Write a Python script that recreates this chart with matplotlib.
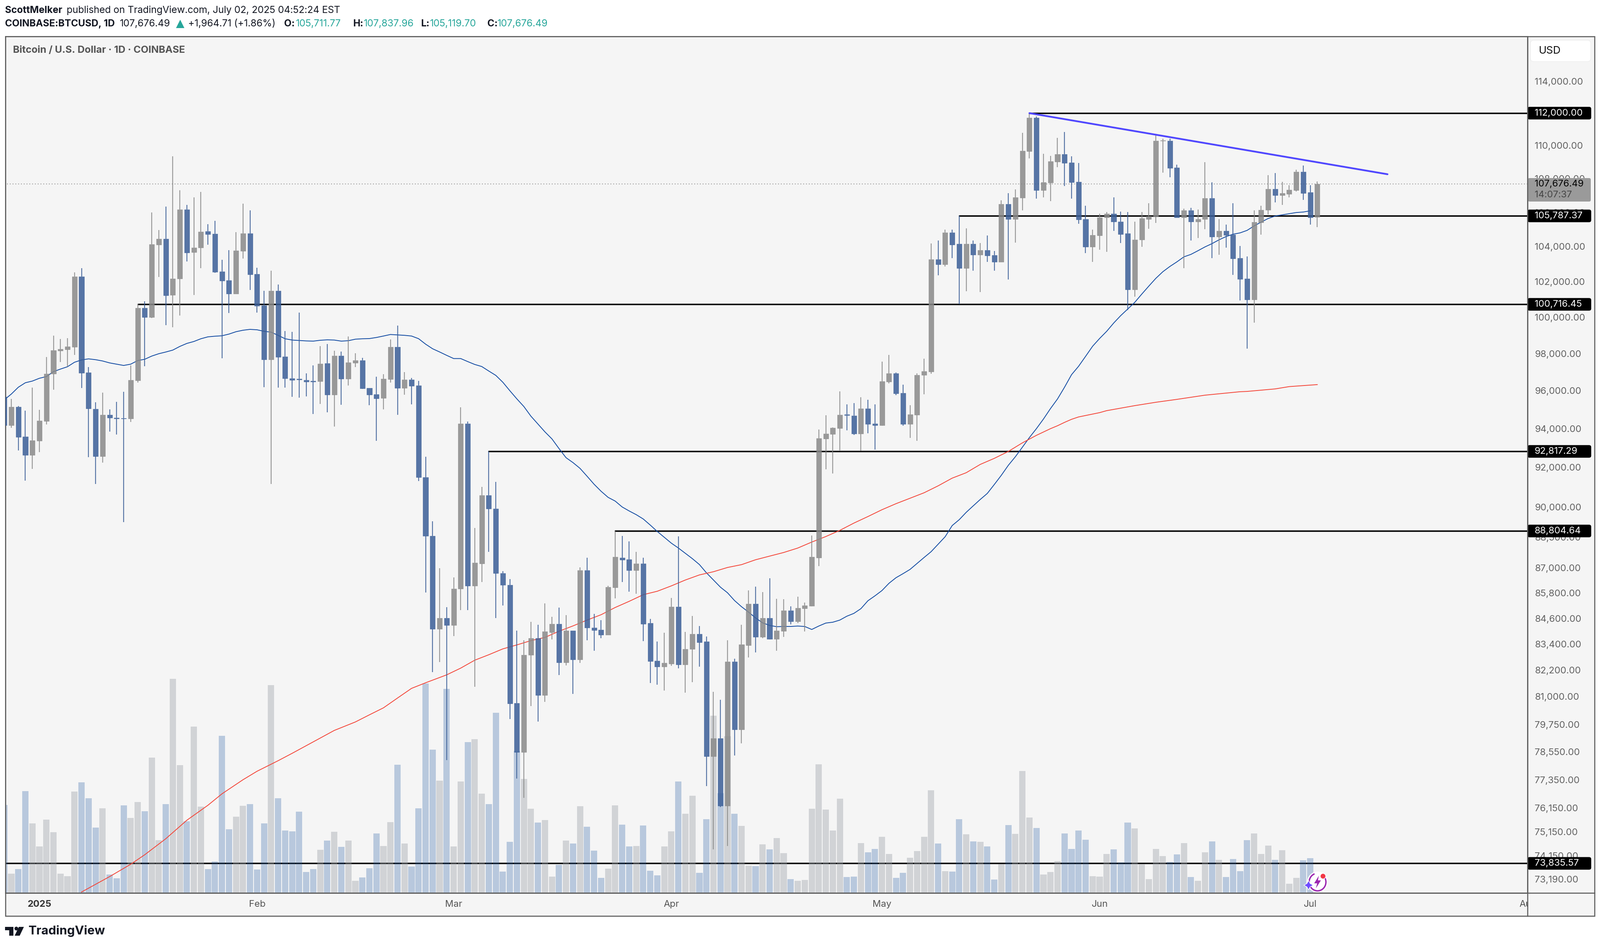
import numpy as np
import matplotlib
matplotlib.use("Agg")
import matplotlib.pyplot as plt
from matplotlib.patches import Rectangle, FancyBboxPatch, Circle, Polygon, Arc

plt.rcParams["font.family"] = "Inter"

# daily candles, first entry is Dec 27 2024 (day -5 counted from Jan 1)
first_day = -5
opens = [
    95673, 94166, 95149, 93575, 92626, 93374, 94398, 96904, 98144, 98214,
    98365, 102291, 96964, 95041, 92571, 94714, 94568, 94545, 94522, 96541,
    100523, 100000, 104114, 104449, 101240, 102158, 106156, 103670, 103928, 104893,
    104745, 102570, 102074, 101300, 103744, 104770, 102436, 100642, 97668, 101480,
    97829, 96653, 96631, 96562, 96516, 96494, 97478, 95775, 97887, 96642,
    97506, 97621, 96140, 95798, 95607, 96620, 98355, 96141, 96589, 96275,
    91495, 88559, 84107, 84618, 84269, 86009, 94257, 86134, 87216, 90592,
    89918, 86754, 86189, 80710, 78537, 82906, 83671, 81057, 83953, 84344,
    82550, 84020, 82685, 86882, 84170, 84057, 83820, 86072, 87502, 87424,
    86895, 87203, 84369, 82624, 82352, 82501, 85154, 82464, 83164, 83858,
    83509, 78352, 79146, 76231, 82587, 79534, 83348, 85290, 83725, 84603,
    83626, 84012, 84974, 84463, 85075, 85177, 87500, 93468, 93721, 94016,
    94738, 94672, 93743, 95046, 94271, 94171, 96488, 96924, 95872, 94249,
    94716, 96830, 97024, 103255, 102970, 104823, 104149, 102772, 104149, 103521,
    103788, 103493, 103130, 106493, 105587, 106864, 109660, 111712, 107318, 107762,
    109025, 109469, 108978, 107812, 105587, 103998, 104631, 105683, 105906, 105442,
    104756, 101539, 104391, 105606, 105751, 110287, 110297, 108667, 105703, 106119,
    105442, 105587, 106844, 104564, 104919, 104679, 103331, 102160, 100975, 105393,
    106128, 107388, 107011, 107091, 107318, 108399, 107170, 105711.77,
]
highs = [
    95900, 95559, 95194, 94940, 96174, 94984, 97806, 98985, 98786, 98833,
    102521, 102764, 97275, 95379, 95889, 95007, 95401, 95935, 97368, 100741,
    100897, 105993, 104955, 106331, 109360, 107308, 106432, 106877, 107206, 105304,
    105505, 103240, 103793, 104844, 106508, 106118, 102788, 101480, 102618, 101841,
    99244, 99197, 100260, 96940, 97368, 98401, 98530, 98144, 98120, 98926,
    98027, 97760, 96140, 96756, 96881, 98767, 99529, 96993, 96678, 96522,
    92542, 89285, 86998, 85123, 86536, 95118, 94374, 88962, 90995, 92817,
    91263, 86844, 86472, 84016, 83582, 84444, 84307, 85313, 84680, 85098,
    84756, 84020, 87036, 87489, 84805, 84506, 86136, 88793, 88571, 88298,
    87789, 87489, 84581, 83509, 83920, 85555, 88532, 83958, 84718, 84232,
    83755, 81210, 80853, 83582, 82727, 84294, 85926, 86110, 85834, 86510,
    85531, 85510, 85156, 85632, 85339, 88575, 93950, 94694, 94060, 95970,
    95272, 95350, 95643, 95508, 95272, 97558, 97938, 96970, 96317, 95226,
    96924, 97731, 104170, 104362, 104996, 104976, 105790, 105053, 104362, 104196,
    104631, 103740, 106698, 107141, 107368, 110784, 112000, 111804, 109509, 109375,
    110480, 110834, 109358, 108946, 106376, 104976, 105916, 106003, 106893, 106051,
    106003, 105442, 106012, 106542, 110682, 110428, 110418, 108846, 106216, 106274,
    106167, 108985, 107792, 105606, 105268, 106542, 104025, 103427, 106119, 106376,
    108219, 108339, 107812, 107595, 108538, 108797, 107595, 107837.96,
]
lows = [
    94000, 94044, 92857, 91316, 91925, 92780, 94220, 96049, 97541, 97287,
    97922, 96152, 92527, 91164, 92252, 93853, 93698, 89250, 94355, 96437,
    97310, 99964, 102255, 99563, 99445, 100094, 103132, 101240, 102764, 104114,
    102497, 97737, 100236, 101300, 103315, 101529, 100260, 96197, 91164, 96174,
    96174, 95684, 95639, 95707, 94760, 95288, 94850, 94098, 95243, 96288,
    97275, 96094, 95220, 93374, 95007, 96432, 94730, 95785, 95273, 91292,
    85831, 82110, 82563, 78190, 83771, 84992, 84992, 81444, 86324, 87789,
    84618, 85212, 79995, 77404, 76567, 80579, 79886, 80758, 83606, 81976,
    82415, 81117, 82526, 83584, 83100, 83671, 83820, 85540, 86317, 85856,
    85768, 83534, 81613, 81541, 81274, 82402, 82280, 81178, 81650, 82354,
    77068, 74413, 76186, 74557, 78398, 78924, 82775, 83022, 83675, 83616,
    83100, 83725, 84313, 84373, 83992, 85156, 87095, 91900, 91683, 92872,
    93903, 93677, 92839, 93765, 92905, 94149, 96385, 95758, 94149, 93514,
    93369, 95804, 96898, 102358, 102847, 103341, 100735, 101450, 102612, 101404,
    103120, 102612, 103130, 102113, 104218, 106118, 109228, 106796, 106893, 106659,
    108697, 107555, 106796, 105316, 103635, 103111, 103807, 103693, 104919, 104196,
    100402, 101141, 103978, 105024, 105365, 108369, 108087, 105703, 102753, 104362,
    104506, 105003, 103341, 103521, 103931, 102377, 100938, 98265, 99703, 104689,
    105877, 106591, 106425, 106874, 107240, 106727, 105268, 105119.70,
]
closes = [
    94166, 95149, 93552, 92626, 93385, 94410, 96916, 98167, 98237, 98377,
    102291, 96952, 95052, 92571, 94714, 94568, 94522, 94522, 96564, 100523,
    100000, 104138, 104449, 101216, 102170, 106156, 103659, 103940, 104868, 104720,
    102545, 102050, 101300, 103768, 104770, 102412, 100630, 97668, 101480, 97806,
    96653, 96562, 96585, 96471, 96471, 97455, 95775, 97887, 96642, 97529,
    97621, 96117, 95775, 95593, 96636, 98355, 96141, 96589, 96250, 91496,
    88559, 84107, 84618, 84269, 86009, 94257, 86134, 87242, 90592, 89905,
    86754, 86176, 80698, 78537, 82906, 83671, 81057, 83983, 84344, 82550,
    84020, 82685, 86882, 84170, 84045, 83820, 86084, 87528, 87395, 86895,
    87216, 84344, 82599, 82352, 82526, 85154, 82464, 83176, 83858, 83483,
    78364, 79146, 76231, 82587, 79534, 83372, 85275, 83725, 84603, 83626,
    84031, 84974, 84463, 85096, 85197, 87541, 93490, 93743, 94038, 94716,
    94694, 93743, 95046, 94249, 94171, 96511, 96924, 95849, 94249, 94738,
    96830, 97047, 103255, 102970, 104823, 104120, 102772, 104149, 103521, 103788,
    103474, 103130, 106473, 105587, 106893, 109690, 111712, 107318, 107792, 109045,
    109469, 108948, 107792, 105568, 103998, 104660, 105703, 105906, 105442, 104727,
    101539, 104411, 105635, 105780, 110297, 110327, 108647, 105703, 106119, 105442,
    105606, 106844, 104564, 104919, 104660, 103303, 102132, 100975, 105413, 106147,
    107388, 107011, 107120, 107338, 108399, 107141, 105683, 107676.49,
]
# volume in arbitrary units
volumes = [
    495, 106, 132, 574, 391, 260, 412, 341, 106, 92,
    571, 624, 533, 367, 476, 101, 80, 493, 422, 512,
    460, 764, 296, 500, 1210, 721, 403, 940, 486, 132,
    175, 887, 358, 429, 491, 500, 130, 391, 1175, 533,
    350, 346, 457, 115, 132, 241, 293, 343, 258, 293,
    65, 84, 137, 334, 263, 398, 723, 277, 146, 476,
    1184, 809, 633, 1153, 260, 628, 852, 868, 560, 500,
    1018, 118, 286, 802, 643, 474, 396, 410, 89, 156,
    293, 277, 488, 372, 236, 82, 134, 493, 384, 260,
    263, 379, 122, 96, 260, 346, 628, 445, 548, 111,
    415, 1001, 562, 885, 445, 377, 151, 149, 272, 244,
    308, 222, 75, 65, 70, 474, 726, 469, 350, 531,
    87, 89, 279, 227, 246, 315, 217, 82, 111, 196,
    234, 315, 579, 277, 120, 118, 415, 329, 289, 286,
    260, 72, 160, 381, 331, 688, 424, 365, 101, 115,
    177, 334, 246, 350, 298, 92, 90, 218, 244, 171,
    396, 363, 158, 76, 247, 205, 173, 216, 280, 86,
    66, 226, 289, 185, 87, 190, 121, 297, 335, 218,
    266, 185, 238, 48, 83, 181, 194, 3,
]
# 50 day average, one value per day from first_day
ma50 = [
    95514, 95821, 96186, 96425, 96516, 96665, 96756, 97021, 97160, 97287,
    97529, 97655, 97713, 97668, 97598, 97494, 97425, 97356, 97425, 97621,
    97690, 97864, 97992, 98085, 98190, 98390, 98554, 98660, 98810, 98915,
    98950, 98974, 99067, 99197, 99279, 99327, 99303, 99220, 99173, 98997,
    98810, 98739, 98716, 98692, 98680, 98727, 98751, 98739, 98680, 98704,
    98786, 98810, 98820, 98880, 98960, 99044, 99021, 98998, 98960, 98815,
    98516, 98263, 98088, 97905, 97730, 97730, 97566, 97410, 97298, 97055,
    96821, 96453, 96000, 95566, 95159, 94653, 94240, 93830, 93464, 92966,
    92496, 92241, 91946, 91547, 91140, 90785, 90478, 90293, 89997, 89797,
    89614, 89399, 89097, 88781, 88493, 88207, 87970, 87710, 87450, 87165,
    86766, 86420, 86075, 85810, 85440, 85147, 84893, 84620, 84388, 84268,
    84208, 84218, 84218, 84238, 84218, 84078, 84238, 84378, 84418, 84518,
    84700, 84833, 85055, 85430, 85663, 85915, 86263, 86530, 86725, 86930,
    87218, 87508, 87790, 88155, 88523, 89073, 89363, 89730, 90054, 90374,
    90676, 91128, 91596, 92106, 92544, 93036, 93536, 94000, 94502, 95052,
    95561, 96186, 96859, 97310, 97850, 98400, 98827, 99218, 99675, 100088,
    100454, 100827, 101290, 101740, 102180, 102557, 102857, 103120, 103408, 103550,
    103760, 103980, 104170, 104390, 104580, 104717, 104794, 104940, 105200, 105422,
    105635, 105780, 105848, 105917, 105985, 106015, 106085,
]
# 200 day average, read at these days
ma200_days = [
    6, 10, 13, 15, 18, 21, 24, 26, 29, 31, 34, 36, 39, 42, 45, 47, 49, 51, 53, 55,
    58, 60, 62, 64, 66, 68, 70, 72, 74, 76, 78, 80, 82, 84, 86, 88, 90, 92, 94, 96,
    98, 100, 102, 104, 106, 108, 110, 112, 114, 116, 118, 120, 122, 124, 126, 128,
    130, 132, 134, 136, 138, 140, 142, 144, 145, 146, 147, 148, 151, 152, 156, 159,
    162, 166, 171, 172, 176, 178, 182,
]
ma200 = [
    72670, 73295, 73799, 74190, 74853, 75626, 76257, 76743, 77347, 77712,
    78168, 78490, 78990, 79494, 79868, 80185, 80497, 80936, 81372, 81625,
    81985, 82292, 82655, 82906, 83176, 83360, 83559, 83708, 83995, 84245,
    84518, 84770, 85110, 85403, 85718, 85882, 86138, 86420, 86664, 86818,
    87023, 87160, 87397, 87574, 87750, 87966, 88260, 88531, 88836, 89195,
    89520, 89860, 90162, 90435, 90710, 91060, 91450, 91726, 92150, 92460,
    92817, 93260, 93650, 93997, 94150, 94326, 94487, 94611, 94838, 94942,
    95207, 95385, 95539, 95762, 95946, 95962, 96096, 96219, 96326,
]
# horizontal levels and the day each one starts
levels = [112000.00, 105787.37, 100716.45, 92817.29, 88804.64, 73835.57]
level_starts = [141, 131, 14, 64, 82, -5]
trend_days = [141, 192]
trend_prices = [112000, 108263]
last_price = 107676.49

y_ticks = [114000, 112000, 110000, 108000, 106000, 104000, 102000, 100000, 98000,
           96000, 94000, 92000, 90000, 88500, 87000, 85800, 84600, 83400, 82200,
           81000, 79750, 78550, 77350, 76150, 75150, 74150, 73190]
month_days = [0, 31, 59, 90, 120, 151, 181, 212]
month_labels = ["2025", "Feb", "Mar", "Apr", "May", "Jun", "Jul", "Aug"]

W, H = 3818, 2260
BG = "#f5f5f5"
FRAME = "#5d5d5d"
# plot pane edges in pixels
L, R, T, B = 13, 3645, 87, 2131
OUT_R, OUT_B = 3805, 2186

fig = plt.figure(figsize=(W / 100, H / 100), dpi=100, facecolor="white")

back = fig.add_axes([0, 0, 1, 1], zorder=0)
back.set_xlim(0, W)
back.set_ylim(H, 0)
back.axis("off")
back.add_patch(Rectangle((L, T), OUT_R - L, OUT_B - T, fc=BG, ec=FRAME, lw=1.8))

ax = fig.add_axes([L / W, 1 - B / H, (R - L) / W, (B - T) / H], zorder=1, facecolor=BG)
ax.set_yscale("log")

days = np.arange(first_day, first_day + len(opens))
o = np.array(opens)
c = np.array(closes)
body_lo = np.minimum(o, c)
body_hi = np.maximum(o, c)
down = c < o
BLUE = "#3a5e97"
GRAY = "#898989"
candle_cols = [BLUE if d else GRAY for d in down]

# levels sit under everything else
for lv, st in zip(levels, level_starts):
    ax.plot([st, 215], [lv, lv], color="black", lw=2.5, solid_capstyle="round", zorder=1)
ax.plot([first_day, 215], [last_price, last_price], color="#9a9a9a", lw=1.5,
        ls=(0, (1, 2.2)), zorder=1)

vol_cols = ["#3265a8" if d else "#9ea3ab" for d in down]
vol_alpha = [0.31 if d else 0.41 for d in down]
vol_top = 4857.0
for i in range(len(days)):
    ax.bar(days[i], volumes[i] / vol_top, width=0.9, bottom=0.0007, color=vol_cols[i],
           alpha=vol_alpha[i], transform=ax.get_xaxis_transform(), zorder=2, lw=0)

ax.plot(days[:len(ma50)], ma50, color="#0d47a1", lw=1.35, zorder=3)
ax.plot(ma200_days, ma200, color="#f44336", lw=1.35, zorder=3)

# wicks stop at the body so the alpha does not double up
ax.vlines(days, lows, body_lo, colors=candle_cols, lw=1.6, alpha=0.85, zorder=4)
ax.vlines(days, body_hi, highs, colors=candle_cols, lw=1.6, alpha=0.85, zorder=4)
ax.bar(days, body_hi - body_lo, width=0.72, bottom=body_lo, color=candle_cols,
       edgecolor=candle_cols, lw=0.5, alpha=0.85, zorder=4)

ax.plot(trend_days, trend_prices, color="#4f46ff", lw=3.0, solid_capstyle="round", zorder=5)

ax.set_xlim((L - 94) / 16.755, (R - 94) / 16.755)
ax.set_ylim(72633, 116873)

ax.yaxis.tick_right()
ax.set_yticks(y_ticks)
ax.set_yticklabels([f"{t:,.2f}" for t in y_ticks])
ax.minorticks_off()
ax.tick_params(axis="y", which="both", length=0, pad=12.5, labelsize=16, labelcolor="#606060")
ax.set_xticks([])
for s in ax.spines.values():
    s.set_color(FRAME)
    s.set_linewidth(1.8)

# time axis under the pane, Aug gets cut by the price scale like in the original
tax = fig.add_axes([L / W, 1 - OUT_B / H, (R - L) / W, (OUT_B - B) / H], zorder=1)
tax.set_facecolor("none")
tax.set_xlim(ax.get_xlim())
tax.set_ylim(0, 1)
tax.axis("off")
for d, lab in zip(month_days, month_labels):
    tax.text(d, 0.5, lab, ha="center", va="center", fontsize=16,
             fontweight="bold" if lab == "2025" else "normal",
             color="#333333" if lab == "2025" else "#555555", clip_on=True)

# everything drawn in pixels on top: price labels, header, logo
top = fig.add_axes([0, 0, 1, 1], zorder=5)
top.set_xlim(0, W)
top.set_ylim(H, 0)
top.axis("off")
top.patch.set_alpha(0)


def py(price):
    return H - ax.transData.transform((0, price))[1]


fig.canvas.draw()
for lv in levels:
    y = py(lv)
    top.add_patch(FancyBboxPatch((R + 1, y - 14), 150, 28, boxstyle="round,pad=0,rounding_size=4",
                                 fc="black", ec="black", lw=1.5, zorder=2))
    top.text(3662, y, f"{lv:,.2f}", color="white", fontsize=16, va="center", ha="left", zorder=3)

# last price tag with countdown
top.add_patch(FancyBboxPatch((R + 1, 425), 150, 56, boxstyle="round,pad=0,rounding_size=4",
                             fc="#9a9a9a", ec="none", zorder=2))
top.text(3662, py(last_price), f"{last_price:,.2f}", color="black", fontsize=16, va="center", zorder=3)
top.text(3662, 465, "14:07:37", color="#444444", fontsize=16, va="center", zorder=3)

top.add_patch(FancyBboxPatch((3652, 96), 144, 51, boxstyle="round,pad=0,rounding_size=8",
                             fc="white", ec="#eeeeee", lw=1, zorder=2))
top.text(3672, 121, "USD", color="#111111", fontsize=18, va="center", zorder=3)

# header lines
DARK = "#131722"
TEAL = "#26a69a"
HEAD = 16.5
top.text(12, 25, "ScottMelker", fontsize=HEAD, fontweight="bold", color=DARK, va="center")
top.text(159, 25, "published on TradingView.com, July 02, 2025 04:52:24 EST", fontsize=HEAD,
         color=DARK, va="center")
top.text(12, 57, "COINBASE:BTCUSD, 1D", fontsize=HEAD, fontweight="bold", color=DARK, va="center")
top.text(286, 57, "107,676.49", fontsize=HEAD, color=DARK, va="center")
top.add_patch(Polygon([[420, 67], [440, 67], [430, 47]], fc=TEAL, ec="none"))
top.text(449, 57, "+1,964.71 (+1.86%)", fontsize=HEAD, color=DARK, va="center")
ohlc_labels = ["O:", "H:", "L:", "C:"]
ohlc_vals = ["105,711.77", "107,837.96", "105,119.70", "107,676.49"]
ohlc_lab_x = [678, 842, 1005, 1163]
ohlc_val_x = [706, 868, 1026, 1187]
for lab, val, lx, vx in zip(ohlc_labels, ohlc_vals, ohlc_lab_x, ohlc_val_x):
    top.text(lx, 57, lab, fontsize=HEAD, fontweight="bold", color=DARK, va="center")
    top.text(vx, 57, val, fontsize=HEAD, color=TEAL, va="center")
top.text(31, 120, "Bitcoin / U.S. Dollar · 1D · COINBASE", fontsize=17, fontweight="bold",
         color="#555555", va="center")

# pane separators
top.plot([R, R], [T, OUT_B], color=FRAME, lw=1.8, zorder=4)
top.plot([L, OUT_R], [B, B], color=FRAME, lw=1.8, zorder=4)

# logo
top.add_patch(Polygon([[12, 2212], [32, 2212], [32, 2233], [22, 2233], [22, 2220], [12, 2220]],
                      fc=DARK, ec="none"))
top.add_patch(Circle((39, 2216), 4.5, fc=DARK, ec="none"))
top.add_patch(Polygon([[45, 2212], [57, 2212], [47, 2233], [35, 2233]], fc=DARK, ec="none"))
top.text(68, 2222, "TradingView", fontsize=21, fontweight="bold", color=DARK, va="center")

# little event icon near the last bar
top.add_patch(Circle((3144, 2105), 25, fc="white", ec="none", zorder=6))
top.add_patch(Arc((3144, 2105), 40, 42, theta1=-60, theta2=250, ec="#9c27b0", lw=2.4, zorder=7))
top.add_patch(Polygon([[3147, 2090], [3136, 2108], [3143, 2108], [3140, 2120], [3152, 2101],
                       [3145, 2101]], fc="#9c27b0", ec="none", zorder=7))
top.add_patch(Circle((3157, 2091), 6.5, fc="#f23645", ec="white", lw=1, zorder=8))
top.scatter([3122], [2112], marker=(4, 1, 0), s=260, color="#6e4cff", edgecolors="white",
            linewidths=1, zorder=8)

fig.savefig("out.png", dpi=100, facecolor="white")
